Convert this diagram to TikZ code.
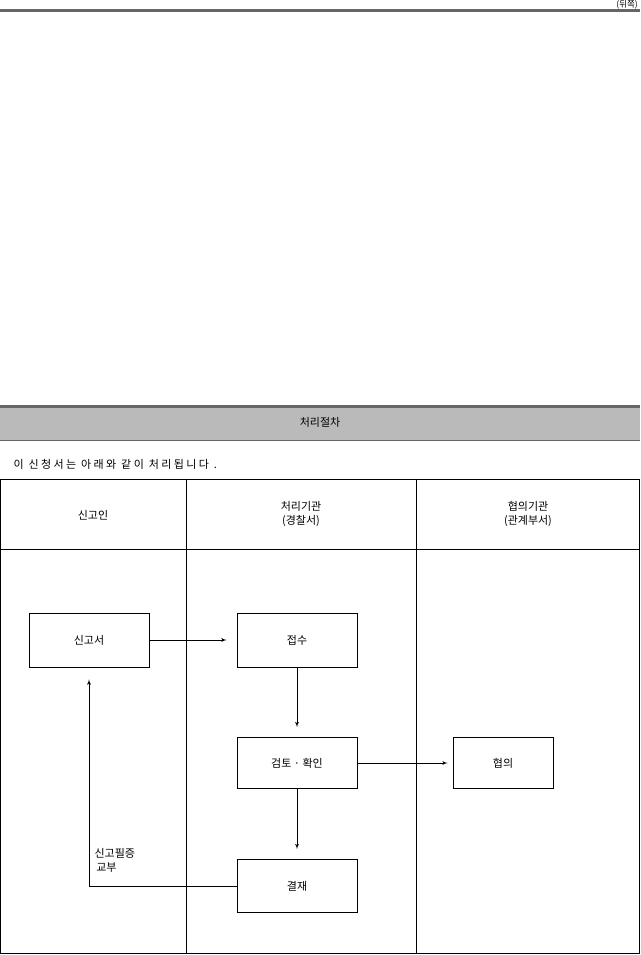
\documentclass[tikz,border=0pt]{standalone}
\usepackage{fontspec}
\setmainfont{Noto Sans CJK KR}
\usetikzlibrary{arrows}
\tikzset{x=1pt, y=-1pt, % One unit is one pixel of the form, y runs downward
every node/.style={font=\fontsize{11pt}{14pt}\selectfont},
stepbox/.style={ % Sets the properties for each step of the procedure
draw, thick, minimum width=120pt, minimum height=54pt},
rule/.style={draw=black!60, line width=3pt},
flow/.style={ % Sets the properties for each connector
draw,->,>=latex', thick, shorten >=10pt}}

\begin{document}
\begin{tikzpicture}
    \useasboundingbox (0,0) rectangle (640,955);

    % top of the form
    \node[anchor=north east, inner sep=0pt, font=\fontsize{8.5pt}{10pt}\selectfont] (back) at (638,0.5) {(뒤쪽)};
    \draw[rule] (0,10.5) -- (640,10.5);

    % title band
    \fill[black!27] (0,406) rectangle (640,440);
    \draw[rule] (0,406) -- (640,406);
    \draw[black!60, thick] (0,440) -- (640,440);
    \node (title) at (320,422) {처리절차};
    \node[anchor=west] (intro) at (10,464) {\addfontfeature{LetterSpace=22}이 신청서는 아래와 같이 처리됩니다 .};

    % table
    \draw[thick] (0,479) rectangle (639,953);
    \draw[thick] (186,479) -- (186,953);
    \draw[thick] (416,479) -- (416,953);
    \draw[thick] (0,549) -- (639,549);
    \node (col1) at (93,515) {신고인};
    \node[align=center] (col2) at (301,514) {처리기관\\(경찰서)};
    \node[align=center] (col3) at (528,514) {협의기관\\(관계부서)};

    % steps
    \node[stepbox] (singo) at (89,640) {신고서};
    \node[stepbox] (jeopsu) at (297,640) {접수};
    \node[stepbox, minimum height=51pt] (geomto) at (297,763) {검토 · 확인};
    \node[stepbox, minimum width=100pt, minimum height=51pt] (hyeopui) at (503,763) {협의};
    \node[stepbox, minimum height=53pt] (gyeoljae) at (297,886) {결재};
    \node[anchor=north west, align=left] (pilgeung) at (91,845) {신고필증\\\,교부};

    \draw[flow] (singo) -- (jeopsu);
    \draw[flow] (jeopsu) -- (geomto);
    \draw[flow, shorten >=5pt] (geomto) -- (hyeopui);
    \draw[flow] (geomto) -- (gyeoljae);
    \draw[flow, shorten >=12pt] (gyeoljae.west) -| (singo.south);

\end{tikzpicture}
\end{document}
